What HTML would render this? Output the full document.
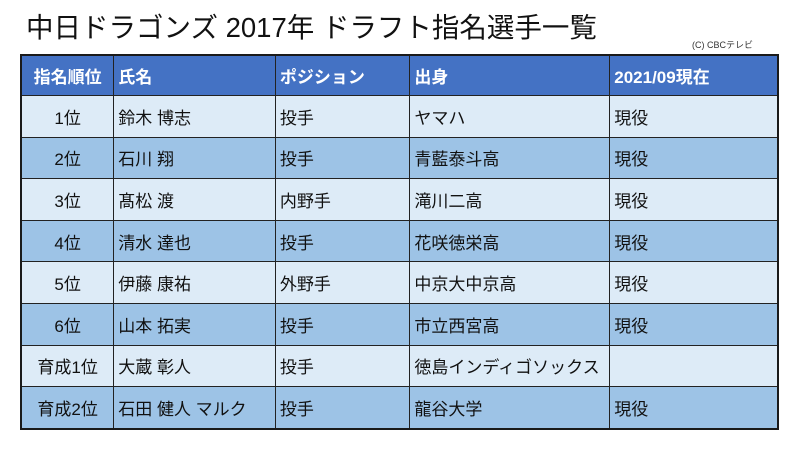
<!DOCTYPE html>
<html><head><meta charset="utf-8"><style>
body{margin:0;width:800px;height:453px;background:#fff;position:relative;overflow:hidden;font-family:"Liberation Sans","Noto Sans CJK JP",sans-serif;}
#title{position:absolute;left:26px;top:5px;font-size:27.5px;color:#111;white-space:nowrap;}
#credit{position:absolute;left:692px;top:38px;font-size:9px;color:#333;}
table{position:absolute;left:20px;top:54px;width:759px;border-collapse:collapse;border:2px solid #1a1a1a;}
td,th{border:1.5px solid #222;font-size:17px;color:#111;padding:0 0 0 4px;text-align:left;font-weight:normal;white-space:nowrap;}
th{background:#4472C4;color:#fff;font-weight:bold;height:39px;}
td{height:40.6px;}
tr.l td{background:#DDEBF7;}
tr.d td{background:#9DC3E6;}
.c{text-align:center;padding:0;}
</style></head><body>
<div id="title">中日ドラゴンズ 2017年 ドラフト指名選手一覧</div>
<div id="credit">(C) CBCテレビ</div>
<table>
<colgroup><col style="width:93px"><col style="width:162px"><col style="width:135px"><col style="width:200px"><col style="width:169px"></colgroup>
<tr><th class="c">指名順位</th><th>氏名</th><th>ポジション</th><th>出身</th><th>2021/09現在</th></tr>
<tr class="l"><td class="c">1位</td><td>鈴木 博志</td><td>投手</td><td>ヤマハ</td><td>現役</td></tr>
<tr class="d"><td class="c">2位</td><td>石川 翔</td><td>投手</td><td>青藍泰斗高</td><td>現役</td></tr>
<tr class="l"><td class="c">3位</td><td>髙松 渡</td><td>内野手</td><td>滝川二高</td><td>現役</td></tr>
<tr class="d"><td class="c">4位</td><td>清水 達也</td><td>投手</td><td>花咲徳栄高</td><td>現役</td></tr>
<tr class="l"><td class="c">5位</td><td>伊藤 康祐</td><td>外野手</td><td>中京大中京高</td><td>現役</td></tr>
<tr class="d"><td class="c">6位</td><td>山本 拓実</td><td>投手</td><td>市立西宮高</td><td>現役</td></tr>
<tr class="l"><td class="c">育成1位</td><td>大蔵 彰人</td><td>投手</td><td>徳島インディゴソックス</td><td></td></tr>
<tr class="d"><td class="c">育成2位</td><td>石田 健人 マルク</td><td>投手</td><td>龍谷大学</td><td>現役</td></tr>
</table>
</body></html>
